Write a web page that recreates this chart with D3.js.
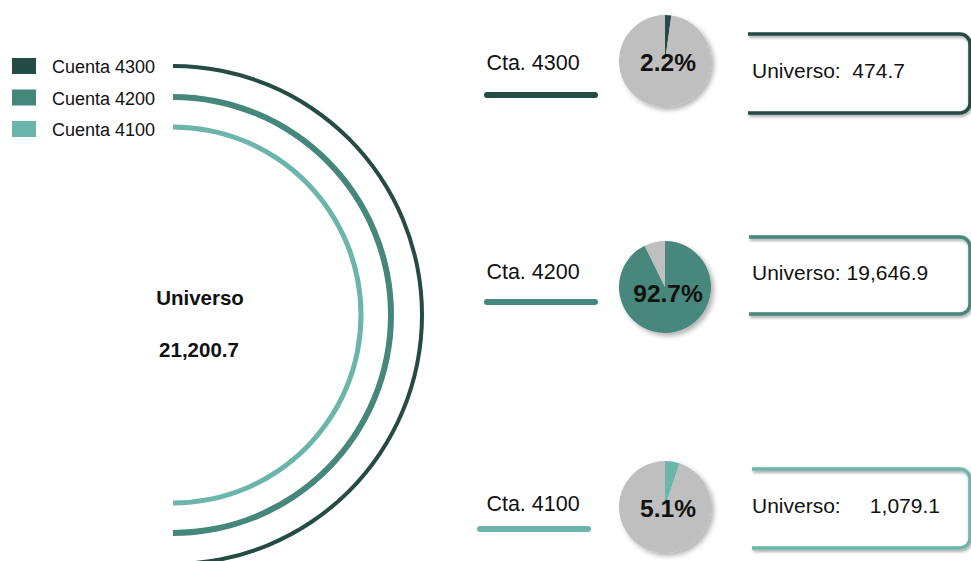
<!DOCTYPE html>
<html><head><meta charset="utf-8">
<script src="https://cdn.jsdelivr.net/npm/d3@7"></script>
<style>
body{margin:0;background:#fff;}
svg{display:block;font-family:"Liberation Sans",Arial,sans-serif;}
</style></head>
<body>
<svg id="chart" width="971" height="561"></svg>
<script>
// ---- data ----
const categories = ["Cuenta 4300", "Cuenta 4200", "Cuenta 4100"];
const shortLabels = ["Cta. 4300", "Cta. 4200", "Cta. 4100"];
const percentages = [2.2, 92.7, 5.1];
const universos = [474.7, 19646.9, 1079.1];
const universoLabels = ["Universo:  474.7", "Universo: 19,646.9", "Universo:     1,079.1"];
const totalUniverso = 21200.7;
const colors = ["#254b45", "#46877c", "#6cb5ab"];

const svg = d3.select("#chart");
const defs = svg.append("defs");
defs.append("filter").attr("id","pieShadow").attr("x","-30%").attr("y","-30%").attr("width","160%").attr("height","160%")
  .append("feDropShadow").attr("dx",3).attr("dy",3).attr("stdDeviation",2.5).attr("flood-color","#000").attr("flood-opacity",0.3);
defs.append("filter").attr("id","boxShadow").attr("x","-10%").attr("y","-30%").attr("width","120%").attr("height","160%")
  .append("feDropShadow").attr("dx",1).attr("dy",2).attr("stdDeviation",1.5).attr("flood-color","#000").attr("flood-opacity",0.35);

// ---- big arcs ----
const cx = 173, cy = 315;
const radius = d3.scaleOrdinal().domain(categories).range([249, 218, 188]);
const thick = d3.scaleOrdinal().domain(categories).range([4, 6, 5]);
const arcG = svg.append("g").attr("transform", `translate(${cx},${cy})`);
arcG.selectAll("path").data(categories).join("path")
  .attr("d", d => d3.arc()({innerRadius: radius(d) - thick(d)/2, outerRadius: radius(d) + thick(d)/2, startAngle: 0, endAngle: Math.PI}))
  .attr("fill", (d,i) => colors[i]);

// ---- legend ----
const legY = d3.scalePoint().domain(categories).range([66, 129]);
const leg = svg.append("g").selectAll("g").data(categories).join("g")
  .attr("transform", d => `translate(0,${legY(d)})`);
leg.append("rect").attr("x", 12).attr("y", -8).attr("width", 24).attr("height", 16).attr("fill", (d,i) => colors[i]);
leg.append("text").attr("x", 52).attr("y", 1).attr("dy", "0.35em").attr("font-size", 18).attr("fill","#111").text(d => d);

// ---- centre text ----
svg.append("text").attr("x", 200).attr("y", 298).attr("dy","0.35em").attr("text-anchor","middle")
  .attr("font-size", 20.5).attr("font-weight","bold").attr("fill","#111").text("Universo");
svg.append("text").attr("x", 199).attr("y", 350).attr("dy","0.35em").attr("text-anchor","middle")
  .attr("font-size", 20.5).attr("font-weight","bold").attr("fill","#111").text(d3.format(",.1f")(totalUniverso));

// ---- right rows ----
const rowY = d3.scaleOrdinal().domain(categories).range([62, 288, 508]);
const rowLineX = [[487, 595], [487, 595], [480, 588]];
const rowLineDy = [33, 14, 21];
const rowTextDy = [0, -17, -5];
const boxTop = [34, 237, 469], boxBot = [113, 314, 548], boxLeft = [748, 749, 752];

const rows = svg.append("g").selectAll("g").data(categories).join("g");

rows.append("text").attr("x", 533).attr("y", (d,i) => rowY(d) + rowTextDy[i]).attr("dy","0.35em")
  .attr("text-anchor","middle").attr("font-size", 21.5).attr("fill","#111").text((d,i) => shortLabels[i]);
rows.append("line")
  .attr("x1", (d,i) => rowLineX[i][0]).attr("x2", (d,i) => rowLineX[i][1])
  .attr("y1", (d,i) => rowY(d) + rowLineDy[i]).attr("y2", (d,i) => rowY(d) + rowLineDy[i])
  .attr("stroke", (d,i) => colors[i]).attr("stroke-width", 6).attr("stroke-linecap","round");

// pies
const pie = d3.pie().sort(null).value(d => d);
const pieArc = d3.arc().innerRadius(0).outerRadius(46);
rows.each(function(d, i) {
  const g = d3.select(this).append("g").attr("transform", `translate(665,${rowY(d) - 1})`).attr("filter","url(#pieShadow)");
  g.selectAll("path").data(pie([percentages[i], 100 - percentages[i]])).join("path")
    .attr("d", pieArc).attr("fill", (p,j) => j === 0 ? colors[i] : "#bfbfbf");
});
rows.append("text").attr("x", 668).attr("y", (d,i) => rowY(d) + (i===1?5:0)).attr("dy","0.35em")
  .attr("text-anchor","middle").attr("font-size", 24.5).attr("font-weight","bold").attr("fill","#111")
  .text((d,i) => d3.format(".1f")(percentages[i]) + "%");

// boxes
rows.append("path")
  .attr("d", (d,i) => {
    const t = boxTop[i], b = boxBot[i], l = boxLeft[i], r = 970, rr = 10;
    return `M${l},${t}H${r-rr}A${rr},${rr} 0 0 1 ${r},${t+rr}V${b-rr}A${rr},${rr} 0 0 1 ${r-rr},${b}H${l}`;
  })
  .attr("fill","none").attr("stroke", (d,i) => colors[i]).attr("stroke-width", 3.5)
  .attr("filter","url(#boxShadow)");
rows.append("text").attr("x", 752).attr("y", (d,i) => (boxTop[i] + boxBot[i]) / 2 - 3).attr("dy","0.35em")
  .attr("font-size", 21).attr("fill","#111").attr("xml:space","preserve").style("white-space","pre")
  .text((d,i) => universoLabels[i]);
</script>
</body></html>
